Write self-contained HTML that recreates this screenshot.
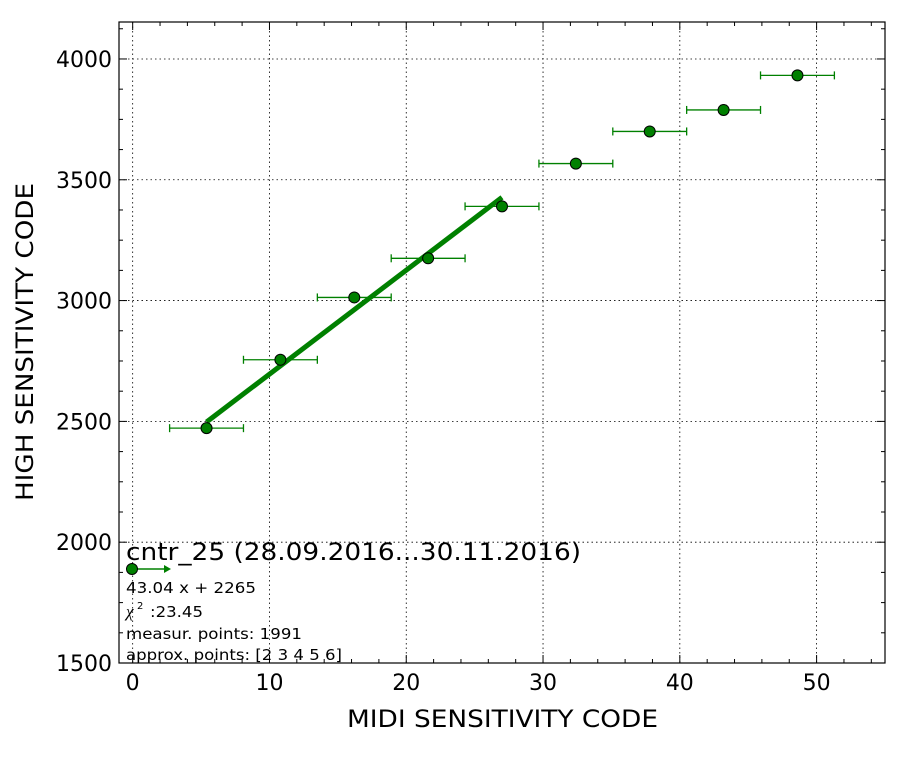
<!DOCTYPE html>
<html><head><meta charset="utf-8"><style>
body{margin:0;background:#fff;}
svg{display:block;font-family:"DejaVu Sans","Liberation Sans",sans-serif;}
</style></head><body>
<svg id="chart" width="912" height="762" viewBox="0 0 912 762"></svg>
<script>
const xs=[5.4,10.8,16.2,21.6,27.0,32.4,37.8,43.2,48.6];
const ys=[2472,2755,3013,3175,3390,3567,3700,3789,3932];
const xerr=[2.7,2.7,2.7,2.7,2.7,2.7,2.7,2.7,2.7];
const yerr=[8,8,8,8,10,10,12,20,12];
const xTicks=[0,10,20,30,40,50];
const yTicks=[1500,2000,2500,3000,3500,4000];
const fitSlope=43.04, fitIntercept=2265, fitRange=[5.4,27.0];

const L=119,R=885,T=22,B=663,xmin=-1,xmax=55,ymin=1500,ymax=4153;
const X=v=>L+(v-xmin)/(xmax-xmin)*(R-L);
const Y=v=>B-(v-ymin)/(ymax-ymin)*(B-T);
const svg=document.getElementById('chart');
const NS='http://www.w3.org/2000/svg';
function mk(tag,attrs,parent){const e=document.createElementNS(NS,tag);for(const k in attrs)e.setAttribute(k,attrs[k]);(parent||svg).appendChild(e);return e;}

xTicks.forEach(t=>{const g=mk('line',{x1:X(t),x2:X(t),y1:T,y2:B,stroke:'#000','stroke-width':0.8,'stroke-dasharray':'1.5,3'});

});
yTicks.forEach(t=>{const g=mk('line',{x1:L,x2:R,y1:Y(t),y2:Y(t),stroke:'#000','stroke-width':0.8,'stroke-dasharray':'1.5,3'});

});
for(let v=0;v<=54;v+=2){const major=v%10===0;const len=major?8:4;
 mk('line',{x1:X(v),x2:X(v),y1:B,y2:B-len,stroke:'#000','stroke-width':1});
 mk('line',{x1:X(v),x2:X(v),y1:T,y2:T+len,stroke:'#000','stroke-width':1});}
for(let v=1500;v<=4125;v+=125){const major=v%500===0;const len=major?8:4;
 mk('line',{x1:L,x2:L+len,y1:Y(v),y2:Y(v),stroke:'#000','stroke-width':1});
 mk('line',{x1:R,x2:R-len,y1:Y(v),y2:Y(v),stroke:'#000','stroke-width':1});}
xTicks.forEach(t=>{const e=mk('text',{x:X(t),y:B+27,'font-size':22,'text-anchor':'middle'});e.textContent=t;

});
yTicks.forEach(t=>{const e=mk('text',{x:L-7,y:Y(t)+8,'font-size':22,'text-anchor':'end'});e.textContent=t;

});
let xt=mk('text',{x:347,y:727,'font-size':24,textLength:311,lengthAdjust:'spacingAndGlyphs'});xt.textContent='MIDI SENSITIVITY CODE';


let yt=mk('text',{x:0,y:0,'font-size':24,'text-anchor':'middle',textLength:318,lengthAdjust:'spacingAndGlyphs',transform:'translate(33,342) rotate(-90)'});yt.textContent='HIGH SENSITIVITY CODE';


xs.forEach((x,i)=>{const y=ys[i];const g=mk('g',{stroke:'#008000','stroke-width':1.3});


 mk('line',{x1:X(x-xerr[i]),x2:X(x+xerr[i]),y1:Y(y),y2:Y(y)},g);
 mk('line',{x1:X(x-xerr[i]),x2:X(x-xerr[i]),y1:Y(y)-4,y2:Y(y)+4},g);
 mk('line',{x1:X(x+xerr[i]),x2:X(x+xerr[i]),y1:Y(y)-4,y2:Y(y)+4},g);
 mk('line',{x1:X(x),x2:X(x),y1:Y(y-yerr[i]),y2:Y(y+yerr[i])},g);
 mk('line',{x1:X(x)-3,x2:X(x)+3,y1:Y(y-yerr[i]),y2:Y(y-yerr[i])},g);
 mk('line',{x1:X(x)-3,x2:X(x)+3,y1:Y(y+yerr[i]),y2:Y(y+yerr[i])},g);});
let fl=mk('line',{x1:X(fitRange[0]),y1:Y(fitSlope*fitRange[0]+fitIntercept),x2:X(fitRange[1]),y2:Y(fitSlope*fitRange[1]+fitIntercept),stroke:'#008000','stroke-width':5});


xs.forEach((x,i)=>{const c=mk('circle',{cx:X(x),cy:Y(ys[i]),r:5.5,fill:'#008000',stroke:'#000','stroke-width':1});

});
let fr=mk('rect',{x:L,y:T,width:R-L,height:B-T,fill:'none',stroke:'#000','stroke-width':1.2});


const lg=mk('g',{});


let t1=mk('text',{x:126,y:560,'font-size':24,textLength:455,lengthAdjust:'spacingAndGlyphs'},lg);t1.textContent='cntr_25 (28.09.2016...30.11.2016)';
mk('line',{x1:132,x2:165,y1:569,y2:569,stroke:'#008000','stroke-width':1.5},lg);
mk('polygon',{points:'164,565 171,569 164,573',fill:'#008000'},lg);
mk('circle',{cx:132,cy:569,r:5.5,fill:'#008000',stroke:'#000'},lg);
const lines=[['43.04 x + 2265',593,130],[':23.45',617,53],['measur. points: 1991',639,176],['approx. points: [2 3 4 5 6]',660,216]];
lines.forEach(([s,y,w],i)=>{const e=mk('text',{x:i===1?150:126,y:y,'font-size':15.5,textLength:w,lengthAdjust:'spacingAndGlyphs'},lg);e.textContent=s;});
let chi=mk('text',{x:126,y:617,'font-size':17,'font-style':'italic','font-family':'Liberation Serif,serif'},lg);chi.textContent='χ';
let sup=mk('text',{x:137,y:609,'font-size':10},lg);sup.textContent='2';
</script>
</body></html>
